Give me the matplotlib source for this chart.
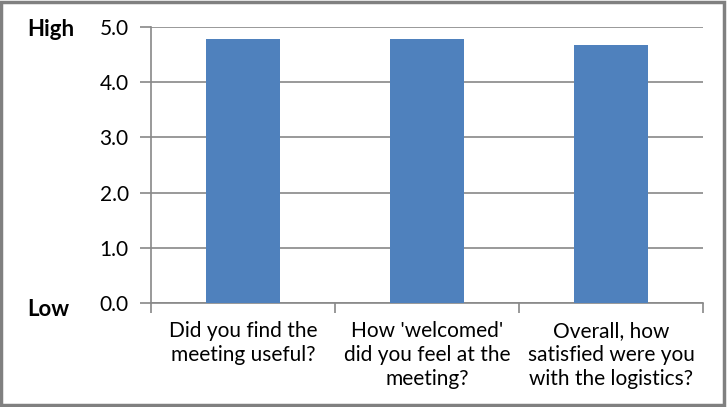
import matplotlib
matplotlib.use('Agg')
import matplotlib.pyplot as plt
from matplotlib.patches import Rectangle

plt.rcParams['font.family'] = ['Lato', 'DejaVu Sans']

questions = ["Did you find the\nmeeting useful?",
             "How 'welcomed'\ndid you feel at the\nmeeting?",
             "Overall, how\nsatisfied were you\nwith the logistics?"]
scores = [4.78, 4.78, 4.67]
yticks = [0, 1, 2, 3, 4, 5]

fig = plt.figure(figsize=(7.28, 4.07), dpi=100)
ax = fig.add_axes([151/728, 1-303/407, 552/728, 276/407])

x = list(range(len(questions)))
ax.bar(x, scores, width=0.4, color='#4F81BD', zorder=3)

ax.set_xlim(-0.5, len(questions)-0.5)
ax.set_ylim(0, 5)
ax.set_yticks(yticks)
ax.set_yticklabels(['%.1f' % v for v in yticks], fontsize=15, color='#000000')
ax.yaxis.grid(True, color='#888888', linewidth=1.2, zorder=0)

# category boundaries as major ticks, labels on minor
ax.set_xticks([i - 0.5 for i in range(len(questions)+1)])
ax.set_xticklabels([])
ax.set_xticks(x, minor=True)
ax.set_xticklabels(questions, minor=True, fontsize=15, linespacing=1.25)
ax.tick_params(axis='x', which='minor', length=0, pad=13)
ax.tick_params(axis='x', which='major', length=7, color='#888888', width=1.2)
ax.tick_params(axis='y', length=8, color='#888888', width=1.2, pad=8)

for s in ['top', 'right']:
    ax.spines[s].set_visible(False)
for s in ['left', 'bottom']:
    ax.spines[s].set_color('#888888')
    ax.spines[s].set_linewidth(1.2)

fig.text(27/728, 1-30/407, 'High', fontsize=16, fontweight='bold', va='center', ha='left')
fig.text(27/728, 1-310/407, 'Low', fontsize=16, fontweight='bold', va='center', ha='left')

# outer frame
fig.patches.append(Rectangle((0.002, 0.004), 0.993, 0.991, transform=fig.transFigure,
                             fill=False, edgecolor='#808080', linewidth=2.5))

fig.savefig('out.png', dpi=100)
